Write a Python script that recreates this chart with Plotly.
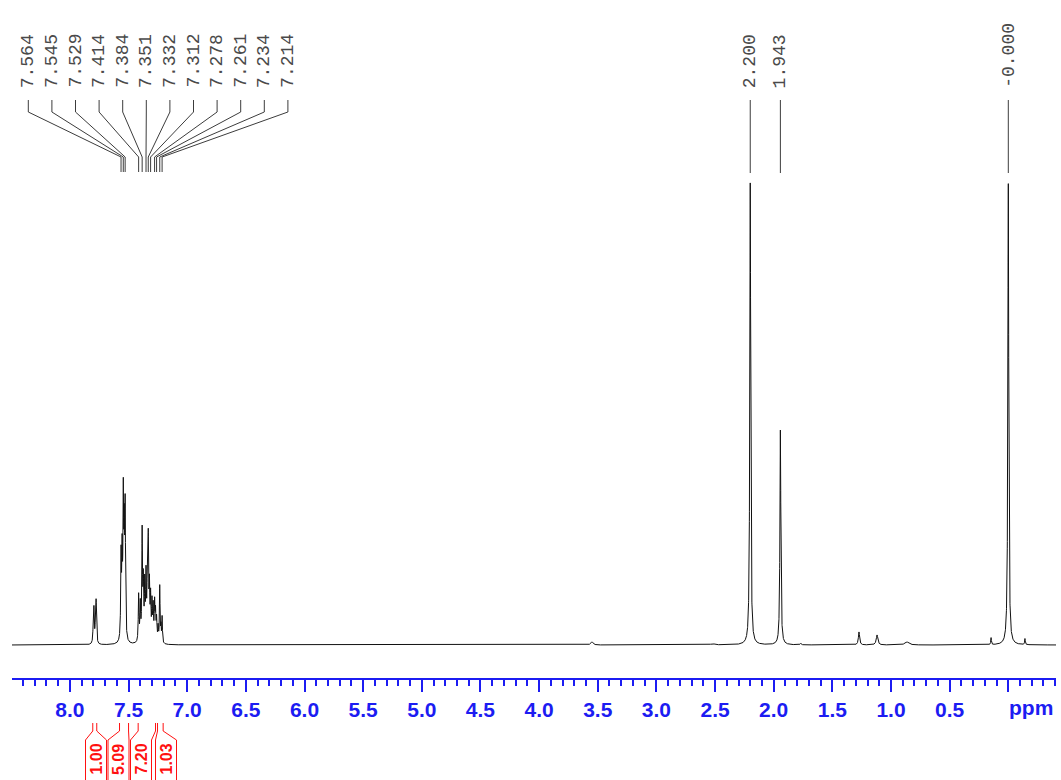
import numpy as np
import plotly.graph_objects as go

# ---------------- spectrum: peak table (shift ppm, height, half-width ppm) ----------------
peak_shift = [7.800, 7.795, 7.781, 7.776,
              7.564, 7.555, 7.545, 7.537, 7.529,
              7.414, 7.400, 7.384, 7.374, 7.362, 7.351, 7.340, 7.332, 7.322, 7.312,
              7.300, 7.290, 7.278, 7.270, 7.261, 7.248, 7.234, 7.224, 7.214,
              3.550, 2.520, 2.200, 1.943, 1.770, 1.273, 1.119, 0.864,
              0.147, 0.000, -0.142]
peak_height = [22, 29, 30, 34,
               82, 80, 135, 95, 127,
               47, 36, 108, 56, 54, 62, 56, 96, 50, 42,
               37, 33, 37, 27, 22, 15, 56, 15, 26,
               3, 1.2, 462, 215, 1.5, 13, 10, 3,
               7, 462, 6]
peak_hwhm = [0.0035, 0.0035, 0.0035, 0.0035,
             0.0035, 0.0035, 0.0035, 0.0035, 0.0035,
             0.0035, 0.0035, 0.0035, 0.0035, 0.0035, 0.0035, 0.0035, 0.0035, 0.0035, 0.0035,
             0.0035, 0.0035, 0.0035, 0.0035, 0.0035, 0.0035, 0.0030, 0.0030, 0.0030,
             0.012, 0.02, 0.0045, 0.0045, 0.005, 0.006, 0.008, 0.02,
             0.003, 0.0045, 0.003]

# picked peaks printed above the spectrum
label_shift = [7.564, 7.545, 7.529, 7.414, 7.384, 7.351, 7.332, 7.312,
               7.278, 7.261, 7.234, 7.214, 2.200, 1.943, -0.0]

# integrals (region start, region end, relative area)
integral_from = [7.805, 7.577, 7.418, 7.253]
integral_to = [7.771, 7.500, 7.270, 7.205]
integral_value = [1.00, 5.09, 7.20, 1.03]

# ppm scale
major_ticks = [8.5, 8.0, 7.5, 7.0, 6.5, 6.0, 5.5, 5.0, 4.5, 4.0, 3.5, 3.0,
               2.5, 2.0, 1.5, 1.0, 0.5, 0.0]
major_text = [""] + [f"{v:.1f}" for v in major_ticks[1:-1]] + [""]

# ---------------- page geometry (pixels) ----------------
W, H = 1061, 780
ZERO_PX, PX_PER_PPM = 1008.3, 117.3      # horizontal position of 0 ppm, scale
AX_LEFT_PX, AX_RIGHT_PX = 12, 1056        # ends of the ppm axis
AXIS_PX = 678                             # vertical position of the ppm axis
BASE_PX = 645                             # spectrum baseline

def ppm_at(px):
    return (ZERO_PX - px) / PX_PER_PPM

def px_at(ppm):
    return ZERO_PX - ppm * PX_PER_PPM

def yval(py):            # intensity units are pixels above the baseline
    return BASE_PX - py

def ypaper(py):
    return 1 - py / H

BLUE = "#1c1cf2"
RED = "#ff1010"

# ---------------- spectrum trace ----------------
x = np.linspace(ppm_at(AX_LEFT_PX - 1), ppm_at(AX_RIGHT_PX), 24000)
y = np.zeros_like(x)
for s, h, g in zip(peak_shift, peak_height, peak_hwhm):
    y += h / (1 + ((x - s) / g) ** 2)

fig = go.Figure(go.Scatter(x=x, y=y, mode="lines",
                           line=dict(color="#111111", width=1),
                           hoverinfo="skip"))

shapes, annotations = [], []

# ---------------- peak labels with connector lines ----------------
FAN_START_PX, FAN_STEP_PX = 28.3, 23.6
for i, s in enumerate(label_shift):
    fanned = s > 7.0
    lab_x = ppm_at(FAN_START_PX + FAN_STEP_PX * i) if fanned else s
    if fanned:
        path = (f"M {lab_x},{yval(100)} L {lab_x},{yval(112)} "
                f"L {s},{yval(157)} L {s},{yval(172)}")
    else:
        path = f"M {s},{yval(100)} L {s},{yval(173)}"
    shapes.append(dict(type="path", xref="x", yref="y", path=path,
                       line=dict(color="#3c3c3c", width=1)))
    annotations.append(dict(x=lab_x, y=yval(90), xref="x", yref="y",
                            text=f"{s:.3f}", textangle=-90,
                            xanchor="center", yanchor="bottom", showarrow=False,
                            font=dict(family="Liberation Mono", size=18, color="#4a4a4a")))

# ---------------- integral brackets ----------------
BOX_CENTER_PX = [96, 118.5, 141, 166]
BOX_HALF_PX = 10.5
for a, b, v, c in zip(integral_from, integral_to, integral_value, BOX_CENTER_PX):
    xl, xr = px_at(a), px_at(b)
    bl, br = c - BOX_HALF_PX, c + BOX_HALF_PX
    for xs, xb in ((xl, bl), (xr, br)):
        path = (f"M {xs/W},{ypaper(723)} L {xs/W},{ypaper(731)} "
                f"L {xb/W},{ypaper(740)} L {xb/W},{ypaper(790)}")
        shapes.append(dict(type="path", xref="paper", yref="paper", path=path,
                           line=dict(color=RED, width=1)))
    annotations.append(dict(x=c / W, y=ypaper(742), xref="paper", yref="paper",
                            text=f"{v:.2f}", textangle=-90,
                            xanchor="center", yanchor="top", showarrow=False,
                            font=dict(family="Liberation Sans", size=16,
                                      color=RED, weight="bold")))

# unit label at the right end of the scale
annotations.append(dict(x=ppm_at(1031), y=ypaper(707), xref="x", yref="paper",
                        text="ppm", showarrow=False, xanchor="center", yanchor="middle",
                        font=dict(family="Liberation Sans", size=21, color=BLUE,
                                  weight="bold")))

fig.update_layout(
    width=W, height=H,
    margin=dict(l=0, r=0, t=0, b=0),
    paper_bgcolor="white", plot_bgcolor="white",
    showlegend=False,
    shapes=shapes, annotations=annotations,
    xaxis=dict(
        domain=[AX_LEFT_PX / W, AX_RIGHT_PX / W],
        range=[ppm_at(AX_LEFT_PX), ppm_at(AX_RIGHT_PX)],
        tickmode="array", tickvals=major_ticks, ticktext=major_text,
        ticks="outside", ticklen=12, tickwidth=1.5, tickcolor=BLUE,
        showline=True, linecolor=BLUE, linewidth=2,
        showgrid=False, zeroline=False,
        tickfont=dict(family="Liberation Sans", size=21, color=BLUE, weight="bold"),
        minor=dict(dtick=0.1, tick0=0, ticks="outside", ticklen=6, tickwidth=1.5,
                   tickcolor=BLUE, showgrid=False),
    ),
    yaxis=dict(
        domain=[ypaper(AXIS_PX), 1],
        range=[yval(AXIS_PX), yval(0)],
        visible=False, showgrid=False, zeroline=False,
    ),
)

fig.write_html("out.html")
